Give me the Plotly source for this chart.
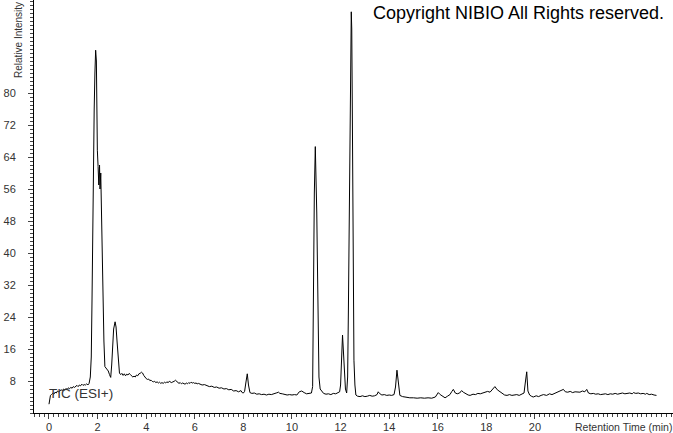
import plotly.graph_objects as go

# Retention time (min) and relative intensity
retention_time = [
    0.00, 0.03, 0.06, 0.10, 0.15, 0.20, 0.25, 0.30, 0.35, 0.40, 0.45, 0.50, 0.55, 0.60, 0.65,
    0.70, 0.75, 0.80, 0.85, 0.90, 0.95, 1.00, 1.05, 1.10, 1.15, 1.20, 1.25, 1.30, 1.35, 1.40,
    1.45, 1.50, 1.55, 1.60, 1.65, 1.70, 1.74, 1.77, 1.80, 1.83, 1.86, 1.89, 1.92, 1.95, 1.97,
    1.99, 2.02, 2.05, 2.08, 2.10, 2.13, 2.15, 2.19, 2.22, 2.26, 2.30, 2.35, 2.40, 2.44, 2.49,
    2.54, 2.58, 2.62, 2.66, 2.72, 2.76, 2.80, 2.85, 2.90, 2.95, 3.00, 3.05, 3.10, 3.15, 3.20,
    3.25, 3.30, 3.35, 3.40, 3.45, 3.50, 3.55, 3.60, 3.65, 3.70, 3.75, 3.80, 3.85, 3.90, 3.95,
    4.00, 4.05, 4.10, 4.15, 4.20, 4.25, 4.30, 4.35, 4.40, 4.45, 4.50, 4.55, 4.60, 4.65, 4.70,
    4.75, 4.80, 4.85, 4.90, 4.95, 5.00, 5.05, 5.10, 5.15, 5.20, 5.25, 5.30, 5.35, 5.40, 5.45,
    5.50, 5.55, 5.60, 5.65, 5.70, 5.75, 5.80, 5.85, 5.90, 5.95, 6.00, 6.05, 6.10, 6.15, 6.20,
    6.30, 6.40, 6.50, 6.60, 6.70, 6.80, 6.90, 7.00, 7.10, 7.20, 7.30, 7.40, 7.50, 7.60, 7.70,
    7.80, 7.90, 7.95, 8.00, 8.05, 8.10, 8.16, 8.21, 8.27, 8.35, 8.45, 8.55, 8.65, 8.75, 8.85,
    8.95, 9.05, 9.15, 9.25, 9.35, 9.45, 9.50, 9.60, 9.70, 9.80, 9.90, 10.00, 10.10, 10.20, 10.30,
    10.40, 10.50, 10.60, 10.70, 10.80, 10.85, 10.88, 10.92, 10.96, 10.99, 11.02, 11.05, 11.08, 11.11, 11.16,
    11.22, 11.30, 11.40, 11.50, 11.60, 11.70, 11.80, 11.90, 11.96, 12.00, 12.04, 12.08, 12.12, 12.16, 12.20,
    12.25, 12.29, 12.32, 12.36, 12.39, 12.42, 12.44, 12.46, 12.48, 12.50, 12.53, 12.55, 12.59, 12.63, 12.70,
    12.80, 12.90, 13.00, 13.10, 13.20, 13.30, 13.40, 13.50, 13.55, 13.60, 13.70, 13.80, 13.90, 14.00, 14.10,
    14.20, 14.26, 14.32, 14.38, 14.44, 14.55, 14.70, 14.85, 15.00, 15.15, 15.30, 15.45, 15.60, 15.75, 15.90,
    16.02, 16.10, 16.20, 16.30, 16.40, 16.50, 16.58, 16.64, 16.72, 16.80, 16.90, 16.98, 17.05, 17.15, 17.25,
    17.33, 17.45, 17.55, 17.65, 17.75, 17.85, 17.95, 18.05, 18.15, 18.25, 18.35, 18.45, 18.56, 18.65, 18.75,
    18.85, 18.95, 19.05, 19.15, 19.25, 19.35, 19.45, 19.55, 19.60, 19.66, 19.71, 19.78, 19.85, 19.93, 20.05,
    20.15, 20.25, 20.35, 20.48, 20.60, 20.70, 20.80, 20.90, 21.00, 21.10, 21.17, 21.25, 21.35, 21.45, 21.55,
    21.65, 21.72, 21.85, 21.95, 22.05, 22.13, 22.20, 22.30, 22.40, 22.50, 22.60, 22.70, 22.81, 22.90, 23.00,
    23.10, 23.20, 23.30, 23.40, 23.50, 23.60, 23.70, 23.80, 23.90, 24.00, 24.05, 24.15, 24.25, 24.35, 24.45,
    24.55, 24.60, 24.70, 24.80, 24.90, 25.00,
]

intensity = [
    2.2, 3.5, 4.4, 4.6, 4.9, 4.7, 5.2, 5.0, 5.5, 5.3, 5.6, 5.8, 5.6, 6.0, 5.8,
    6.1, 5.9, 6.3, 6.1, 6.4, 6.2, 6.6, 6.4, 6.7, 6.9, 6.6, 7.0, 6.8, 7.2, 6.9,
    7.1, 7.0, 7.3, 7.0, 7.4, 9.0, 14.0, 28.0, 52.0, 66.0, 76.0, 85.0, 90.7, 88.0, 72.0,
    65.7, 61.6, 57.0, 62.0, 56.0, 60.0, 52.5, 40.0, 28.0, 18.0, 11.6, 11.2, 10.9, 10.5, 9.6,
    8.9, 12.0, 17.0, 21.0, 22.8, 21.5, 18.0, 13.2, 10.0, 9.6, 9.9, 9.4, 9.8, 9.3, 9.7,
    9.5, 9.9, 9.6, 9.4, 9.0, 9.2, 9.0, 9.5, 9.3, 9.8, 9.9, 10.2, 10.0, 9.4, 8.9,
    8.6, 8.4, 8.5, 8.1, 8.2, 7.9, 7.8, 7.9, 7.6, 7.8, 7.5, 7.7, 7.4, 7.6, 7.4,
    7.7, 7.5, 7.8, 7.6, 7.9, 7.7, 7.6, 7.8, 7.9, 8.2, 8.0, 7.6, 7.4, 7.6, 7.3,
    7.5, 7.4, 7.2, 7.5, 7.3, 7.6, 7.4, 7.7, 7.5, 7.6, 7.4, 7.5, 7.3, 7.4, 7.2,
    7.0, 7.1, 6.8, 6.6, 6.7, 6.4, 6.5, 6.2, 6.3, 6.0, 6.1, 5.8, 5.9, 5.5, 5.6,
    5.3, 5.6, 5.1, 5.0, 5.4, 7.5, 9.8, 7.0, 5.1, 4.9, 5.0, 4.7, 4.8, 4.6, 4.7,
    4.5, 4.7, 4.6, 4.9, 5.0, 5.2, 4.9, 4.8, 4.6, 4.5, 4.6, 4.5, 4.6, 4.5, 5.3,
    5.5, 5.1, 4.8, 4.9, 5.0, 6.6, 30.0, 55.0, 66.6, 60.3, 50.0, 36.0, 20.0, 9.0, 6.0,
    5.4, 4.9, 4.7, 4.8, 4.6, 4.9, 4.8, 5.0, 5.3, 7.0, 14.0, 19.5, 15.0, 9.0, 6.0,
    5.0, 9.0, 25.0, 50.0, 68.0, 90.0, 100.3, 96.0, 78.0, 49.0, 25.0, 13.2, 7.0, 4.5, 4.2,
    4.1, 4.3, 4.1, 4.2, 4.4, 4.2, 4.3, 4.6, 5.3, 4.9, 4.5, 4.6, 4.4, 4.5, 4.4,
    4.6, 6.5, 10.7, 7.5, 4.4, 4.1, 3.9, 3.8, 3.8, 3.7, 3.8, 3.7, 3.8, 3.7, 4.0,
    5.1, 4.6, 4.2, 3.8, 4.2, 4.6, 5.4, 5.9, 5.0, 4.8, 5.0, 5.6, 5.2, 4.8, 4.5,
    4.4, 4.7, 4.6, 4.9, 4.8, 5.0, 5.1, 5.4, 5.2, 5.8, 6.6, 5.8, 5.3, 4.9, 4.5,
    4.4, 4.6, 4.4, 4.5, 4.6, 4.4, 4.8, 5.0, 7.5, 10.3, 5.5, 4.5, 4.2, 4.0, 4.3,
    4.1, 4.4, 4.6, 4.4, 4.8, 4.6, 4.9, 5.0, 5.3, 5.6, 5.9, 5.3, 5.2, 5.4, 5.1,
    5.3, 5.3, 5.2, 5.5, 5.3, 5.9, 5.0, 4.8, 4.9, 4.7, 4.8, 4.6, 4.7, 4.8, 4.6,
    4.8, 4.7, 4.9, 4.7, 4.8, 5.0, 4.8, 4.9, 5.0, 4.8, 5.1, 4.9, 5.0, 4.8, 4.9,
    4.7, 4.9, 4.6, 4.7, 4.5, 4.4,
]

x_tick_values = [0, 2, 4, 6, 8, 10, 12, 14, 16, 18, 20]
y_tick_values = [8, 16, 24, 32, 40, 48, 56, 64, 72, 80]

FONT = "Liberation Sans, Arial, sans-serif"

fig = go.Figure()
fig.add_trace(go.Scatter(
    x=retention_time, y=intensity, mode="lines",
    line=dict(color="black", width=1), hoverinfo="skip", showlegend=False,
))

fig.update_layout(
    width=673, height=433,
    margin=dict(l=34, r=0, t=0, b=20, pad=0, autoexpand=False),
    paper_bgcolor="white", plot_bgcolor="white",
    font=dict(family=FONT, size=11, color="#333333"),
    xaxis=dict(
        range=[-0.617, 25.68], showgrid=False, zeroline=False, automargin=False,
        showline=True, linecolor="black", linewidth=1,
        ticks="outside", ticklen=5, tickwidth=1, tickcolor="#444444",
        tickmode="array", tickvals=x_tick_values,
        tickfont=dict(size=11, color="#333333"),
        ticklabelstandoff=-1,
        minor=dict(ticks="outside", ticklen=3, dtick=0.2, tick0=0, tickcolor="#444444", showgrid=False),
    ),
    yaxis=dict(
        range=[0, 103.25], showgrid=False, zeroline=False, automargin=False,
        showline=True, linecolor="black", linewidth=1,
        ticks="outside", ticklen=5, tickwidth=1, tickcolor="#444444",
        tickmode="array", tickvals=y_tick_values,
        tickfont=dict(size=11, color="#333333"),
        ticklabelstandoff=10,
        minor=dict(ticks="outside", ticklen=3, dtick=1, tick0=0, tickcolor="#444444", showgrid=False),
    ),
    annotations=[
        dict(text="Copyright NIBIO All Rights reserved.", xref="paper", yref="paper",
             x=0.989, y=0.968, xanchor="right", yanchor="middle", showarrow=False,
             font=dict(family=FONT, size=18, color="black")),
        dict(text="Relative Intensity", xref="paper", yref="paper",
             x=-0.025, y=1.0, xanchor="center", yanchor="top", textangle=-90, showarrow=False,
             font=dict(family=FONT, size=10, color="#333333")),
        dict(text="Retention Time (min)", xref="paper", yref="paper",
             x=0.922, y=-0.035, xanchor="center", yanchor="middle", showarrow=False,
             font=dict(family=FONT, size=10.5, color="#333333")),
        dict(text="TIC (ESI+)", xref="x", yref="y",
             x=-0.08, y=4.9, xanchor="left", yanchor="middle", showarrow=False,
             font=dict(family=FONT, size=13.5, color="#333333")),
    ],
)

fig.write_html("out.html", config={"displayModeBar": False},
               post_script="document.body.style.margin='0';")
